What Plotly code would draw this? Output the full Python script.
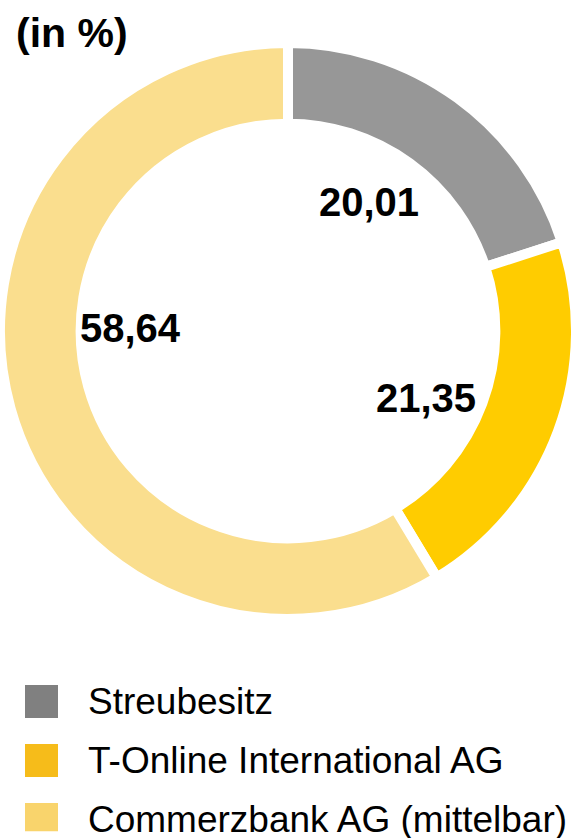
import plotly.graph_objects as go

# ---- data ----
labels = ["Streubesitz", "T-Online International AG", "Commerzbank AG (mittelbar)"]
values = [20.01, 21.35, 58.64]
slice_colors = ["#979797", "#FFCC00", "#FADE8E"]
legend_colors = ["#808080", "#F6BC1A", "#F9D46C"]
title_text = "(in %)"

# ---- layout constants (pixels) ----
W, H = 576, 838
FONT = "Liberation Sans, Arial, Helvetica, sans-serif"
PIE_TOP, PIE_BOTTOM = 43, 619
SWATCH_X = 41.5
TEXT_X = 87
LEG_TOP_PX, LEG_BOTTOM_PX = 672.0, 831.3
LEG_RANGE = [2.2, -0.5]

# value-label positions (pixels) inside the hole
label_pos = [(369, 202), (426, 398), (130, 328)]


def fmt(v):
    return f"{v:.2f}".replace(".", ",")


fig = go.Figure()

fig.add_trace(go.Pie(
    labels=labels,
    values=values,
    sort=False,
    direction="clockwise",
    rotation=0,
    hole=0.72,
    marker=dict(colors=slice_colors, line=dict(color="white", width=10)),
    textinfo="none",
    hoverinfo="label+value",
    domain=dict(x=[0, 1], y=[(H - PIE_BOTTOM) / H, (H - PIE_TOP) / H]),
    showlegend=False,
))

# legend swatches drawn as a scatter on a hidden cartesian axis
fig.add_trace(go.Scatter(
    x=[SWATCH_X] * len(labels),
    y=labels,
    mode="markers",
    marker=dict(symbol="square", size=33, color=legend_colors, line=dict(width=0)),
    hoverinfo="skip",
    showlegend=False,
))

annotations = []
for lab in labels:
    annotations.append(dict(
        x=TEXT_X, y=lab, xref="x", yref="y", text=lab, showarrow=False,
        xanchor="left", yanchor="middle", borderpad=0,
        font=dict(family=FONT, size=37, color="black"),
    ))

for v, (px, py) in zip(values, label_pos):
    annotations.append(dict(
        x=px / W, y=1 - py / H, xref="paper", yref="paper", text=f"<b>{fmt(v)}</b>",
        showarrow=False, xanchor="center", yanchor="middle",
        font=dict(family=FONT, size=40, color="black"),
    ))

annotations.append(dict(
    x=14 / W, y=1 - 33 / H, xref="paper", yref="paper", text=f"<b>{title_text}</b>",
    showarrow=False, xanchor="left", yanchor="middle",
    font=dict(family=FONT, size=41, color="black"),
))

fig.update_layout(
    width=W, height=H,
    margin=dict(l=0, r=0, t=0, b=0),
    paper_bgcolor="white", plot_bgcolor="white",
    showlegend=False,
    xaxis=dict(range=[0, W], domain=[0, 1], visible=False, fixedrange=True),
    yaxis=dict(type="category", range=LEG_RANGE, visible=False, fixedrange=True,
               domain=[(H - LEG_BOTTOM_PX) / H, (H - LEG_TOP_PX) / H]),
    annotations=annotations,
)

fig.write_html(
    "out.html",
    config={"displayModeBar": False},
    post_script="document.body.style.margin='0';document.body.style.overflow='hidden';",
)
